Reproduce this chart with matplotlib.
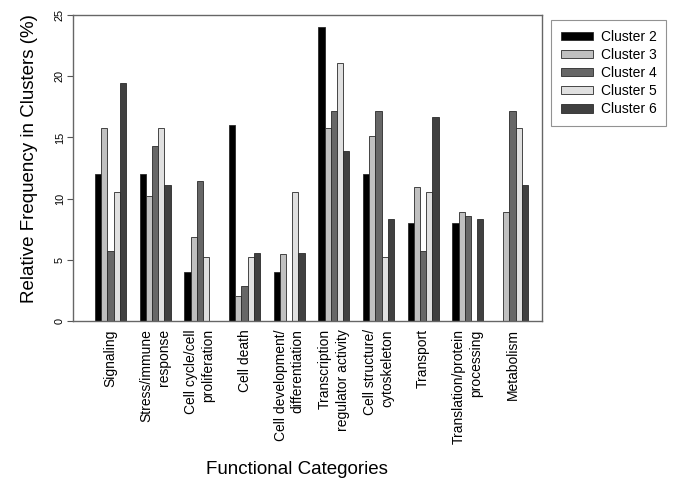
import matplotlib
matplotlib.use("Agg")
import matplotlib.pyplot as plt
import numpy as np

plt.rcParams['font.family'] = ['Liberation Sans', 'DejaVu Sans']

categories = ["Signaling", "Stress/immune\nresponse", "Cell cycle/cell\nproliferation",
              "Cell death", "Cell development/\ndifferentiation", "Transcription\nregulator activity",
              "Cell structure/\ncytoskeleton", "Transport", "Translation/protein\nprocessing",
              "Metabolism"]

cluster2 = [12.0, 12.0, 4.0, 16.0, 4.0, 24.0, 12.0, 8.0, 8.0, 0.0]
cluster3 = [15.8, 10.25, 6.87, 2.07, 5.48, 15.8, 15.1, 10.96, 8.94, 8.94]
cluster4 = [5.7, 14.3, 11.45, 2.86, 0.0, 17.17, 17.17, 5.7, 8.6, 17.17]
cluster5 = [10.53, 15.8, 5.26, 5.26, 10.53, 21.05, 5.26, 10.53, 0.0, 15.8]
cluster6 = [19.44, 11.11, 0.0, 5.56, 5.56, 13.89, 8.33, 16.67, 8.33, 11.11]

series = [cluster2, cluster3, cluster4, cluster5, cluster6]
names = ["Cluster 2", "Cluster 3", "Cluster 4", "Cluster 5", "Cluster 6"]
colors = ["#000000", "#c0c0c0", "#676767", "#e0e0e0", "#404040"]

fig = plt.figure(figsize=(6.85, 4.95), dpi=100)
ax = fig.add_axes([73 / 685, 1 - 321 / 495, 469 / 685, 306 / 495])

x = np.arange(len(categories))
w = 0.139
for j, vals in enumerate(series):
    ax.bar(x + (j - 2) * w, vals, width=w, color=colors[j], edgecolor="#2a2a2a",
           linewidth=0.6, label=names[j])

ax.set_xlim(-0.84, 9.66)
ax.set_ylim(0, 25)
ax.set_yticks([0, 5, 10, 15, 20, 25])
ax.tick_params(axis='y', labelsize=7.8, length=4, width=0.8, color="#555555", pad=2)
for lab in ax.get_yticklabels():
    lab.set_rotation(90)
    lab.set_va("center")
ax.set_xticks(x)
ax.set_xticklabels(categories, rotation=90, fontsize=10, ha="center", va="top",
                   multialignment="right", linespacing=1.3)
ax.tick_params(axis='x', length=0, pad=6)

for s in ax.spines.values():
    s.set_color("#666666")
    s.set_linewidth(1.0)

ax.set_ylabel("Relative Frequency in Clusters (%)", fontsize=13.5)
ax.yaxis.set_label_coords(-0.074, 0.53)
ax.set_xlabel("Functional Categories", fontsize=13.5)
ax.xaxis.set_label_coords(0.477, -0.457)

leg = ax.legend(loc="upper left", bbox_to_anchor=(551 / 685, 1 - 20 / 495),
                bbox_transform=fig.transFigure, borderaxespad=0, fancybox=False,
                fontsize=10, handlelength=2.3, handleheight=0.55, labelspacing=0.3,
                borderpad=0.7, handletextpad=0.58)
leg.get_frame().set_edgecolor("#777777")
leg.get_frame().set_linewidth(0.8)

fig.savefig("out.png", dpi=100)
